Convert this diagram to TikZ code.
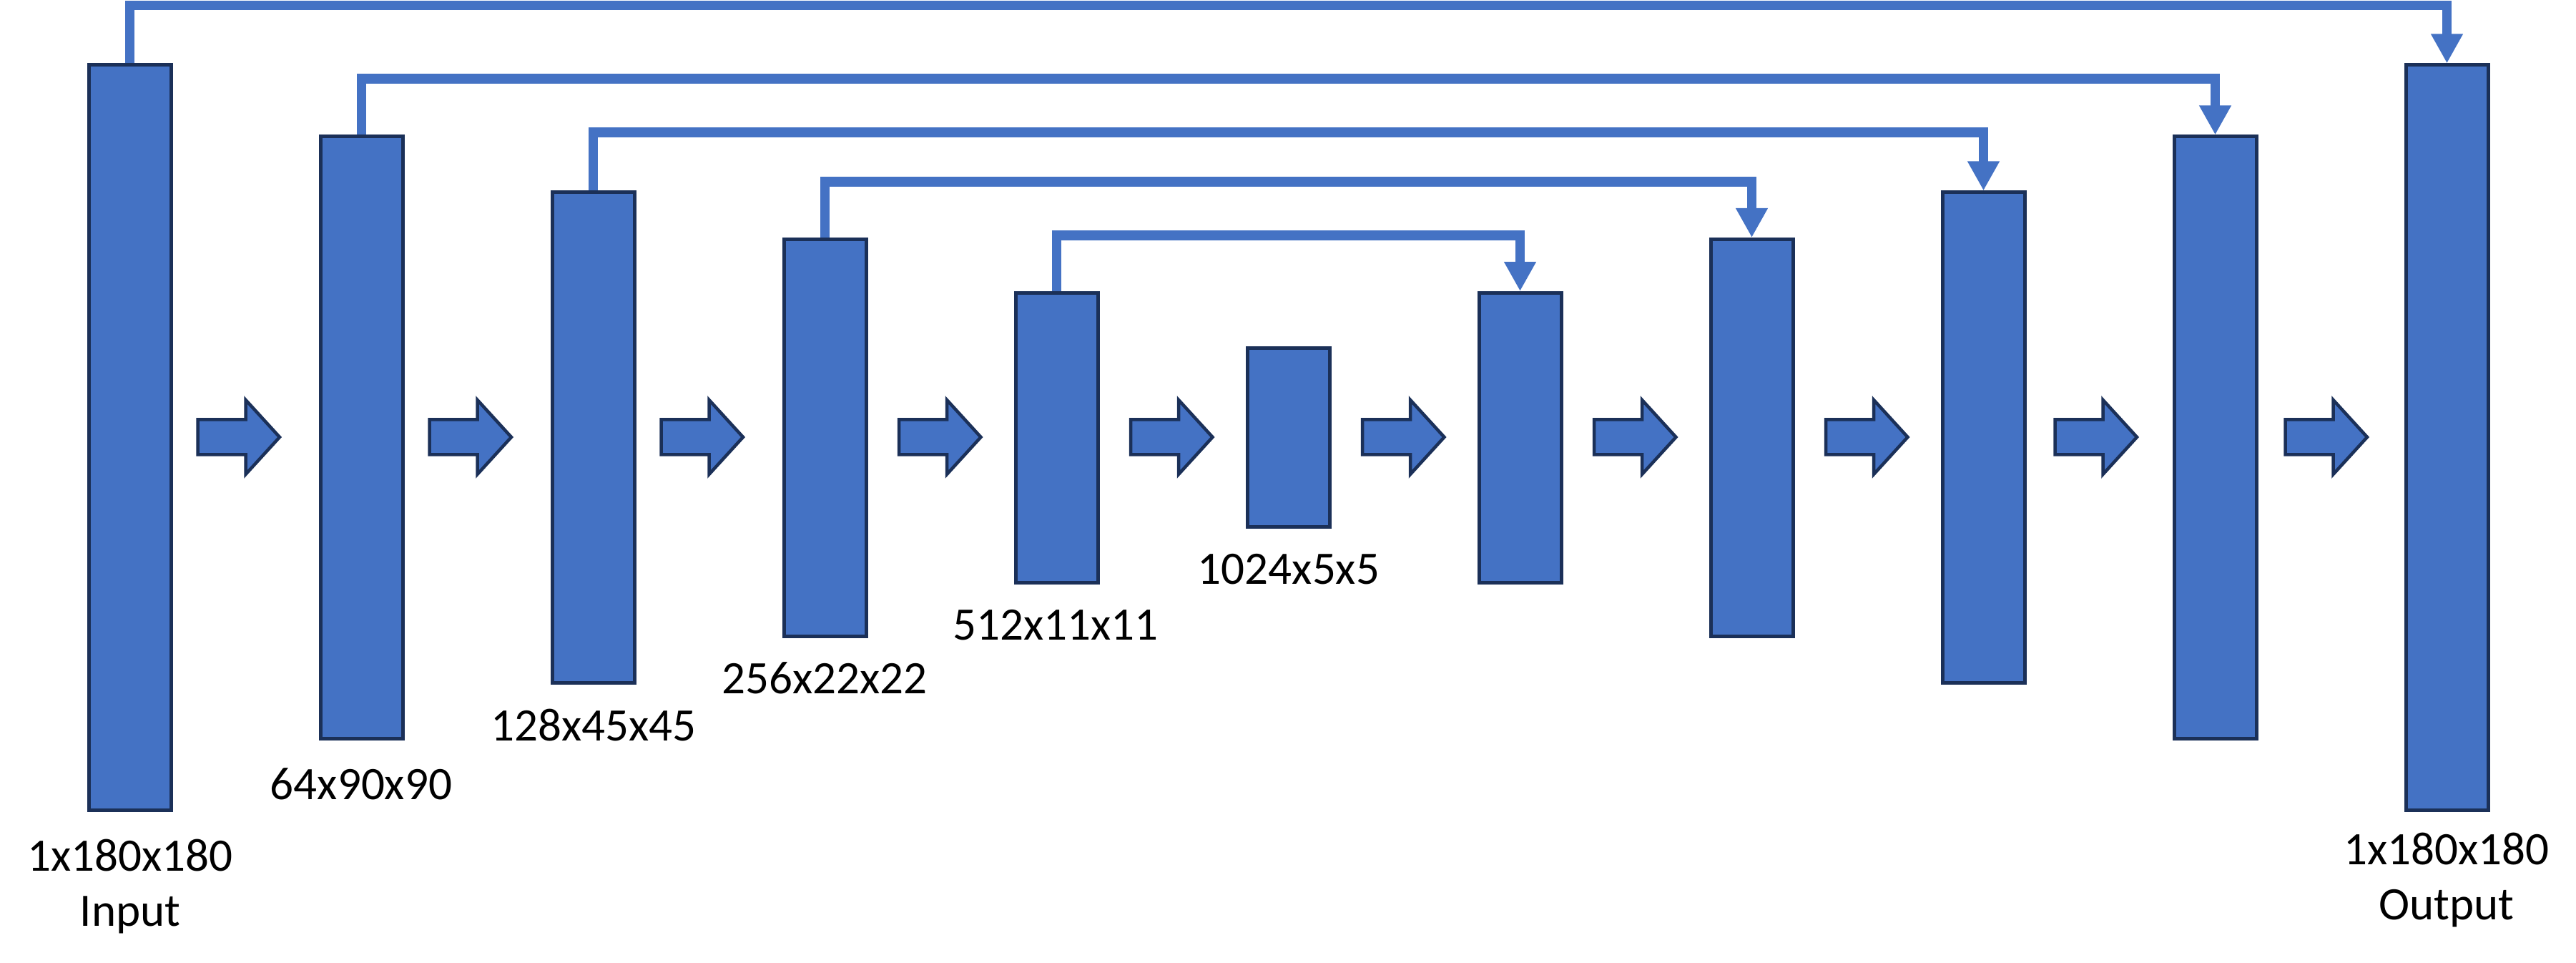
\documentclass[tikz,border=0pt]{standalone}
\usepackage{fontspec}
\setmainfont{Carlito}
\usetikzlibrary{arrows.meta}
\definecolor{barfill}{HTML}{4472C4}
\definecolor{barline}{RGB}{27,48,88}
\begin{document}
\begin{tikzpicture}[
  layer/.style={draw=barline, fill=barfill, line width=0.05cm, minimum width=1.15cm, inner sep=0pt, rectangle},
  skip/.style={draw=barfill, line width=0.135cm, -{Triangle[length=0.41cm,width=0.42cm]}},
  dimlabel/.style={font=\fontsize{18.5}{21.9}\selectfont, inner sep=0pt, anchor=north, align=center},
  blockarrow/.pic={\draw[draw=barline, fill=barfill, line width=0.045cm] (-0.585,-0.245) -- (0.085,-0.245) -- (0.085,-0.52) -- (0.56,0) -- (0.085,0.52) -- (0.085,0.245) -- (-0.585,0.245) -- cycle;}
]
\useasboundingbox (0,0) rectangle (36.02,13.46);

% layers
\node[layer, minimum height=10.42cm] (b1)  at (1.815,7.34) {};
\node[layer, minimum height=8.42cm]  (b2)  at (5.055,7.34) {};
\node[layer, minimum height=6.86cm]  (b3)  at (8.295,7.34) {};
\node[layer, minimum height=5.55cm]  (b4)  at (11.535,7.34) {};
\node[layer, minimum height=4.05cm]  (b5)  at (14.775,7.34) {};
\node[layer, minimum height=2.50cm]  (b6)  at (18.015,7.34) {};
\node[layer, minimum height=4.05cm]  (b7)  at (21.255,7.34) {};
\node[layer, minimum height=5.55cm]  (b8)  at (24.495,7.34) {};
\node[layer, minimum height=6.86cm]  (b9)  at (27.735,7.34) {};
\node[layer, minimum height=8.42cm]  (b10) at (30.975,7.34) {};
\node[layer, minimum height=10.42cm] (b11) at (34.215,7.34) {};

% block arrows
\pic (a1)  at (3.35,7.35)   {blockarrow};
\pic (a2)  at (6.59,7.35)   {blockarrow};
\pic (a3)  at (9.83,7.35)   {blockarrow};
\pic (a4)  at (13.155,7.35) {blockarrow};
\pic (a5)  at (16.395,7.35) {blockarrow};
\pic (a6)  at (19.635,7.35) {blockarrow};
\pic (a7)  at (22.875,7.35) {blockarrow};
\pic (a8)  at (26.115,7.35) {blockarrow};
\pic (a9)  at (29.32,7.35)  {blockarrow};
\pic (a10) at (32.54,7.35)  {blockarrow};

% skip connection levels
\coordinate (h1) at (0,13.385);
\coordinate (h2) at (0,12.36);
\coordinate (h3) at (0,11.61);
\coordinate (h4) at (0,10.92);
\coordinate (h5) at (0,10.17);

\draw[skip] (b1.north) -- (b1.north |- h1) -- (b11.north |- h1) -- (b11.north);
\draw[skip] (b2.north) -- (b2.north |- h2) -- (b10.north |- h2) -- (b10.north);
\draw[skip] (b3.north) -- (b3.north |- h3) -- (b9.north |- h3) -- (b9.north);
\draw[skip] (b4.north) -- (b4.north |- h4) -- (b8.north |- h4) -- (b8.north);
\draw[skip] (b5.north) -- (b5.north |- h5) -- (b7.north |- h5) -- (b7.north);

% labels
\node[dimlabel] (l1)  at (1.82,1.74)  {1x180x180\\Input};
\node[dimlabel] (l2)  at (5.05,2.73)  {64x90x90};
\node[dimlabel] (l3)  at (8.30,3.56)  {128x45x45};
\node[dimlabel] (l4)  at (11.53,4.21) {256x22x22};
\node[dimlabel] (l5)  at (14.76,4.94) {512x11x11};
\node[dimlabel] (l6)  at (18.02,5.72) {1024x5x5};
\node[dimlabel] (l11) at (34.21,1.83) {1x180x180\\Output};
\end{tikzpicture}
\end{document}
